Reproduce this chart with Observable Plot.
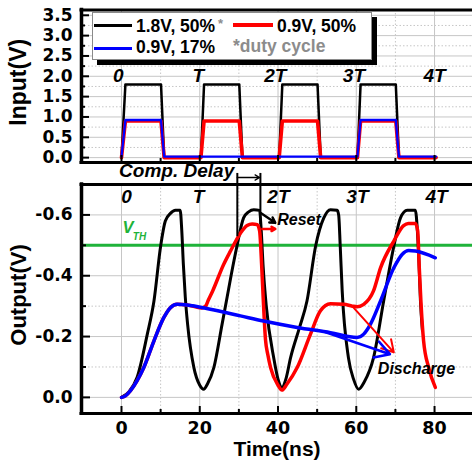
<!DOCTYPE html>
<html>
<head>
<meta charset="utf-8">
<script src="https://cdn.jsdelivr.net/npm/d3@7"></script>
<script src="https://cdn.jsdelivr.net/npm/@observablehq/plot@0.6"></script>
<style>
  body { margin: 0; background: #fff; }
  #wrap { position: relative; width: 472px; height: 463px; overflow: hidden; font-family: 'Liberation Sans', Arial, sans-serif; }
  #bot { position: absolute; left: 0; top: 160px; }
  #top { position: absolute; left: 0; top: 0; }
  .abs { position: absolute; }
  .lt { position: absolute; font-size: 17.5px; line-height: 17.5px; font-weight: bold; white-space: nowrap; }
</style>
</head>
<body>
<div id="wrap">
  <div id="bot"></div>
  <div id="top"></div>
</div>
<script>
// ---------------- data ----------------
const xMajor = [0, 20, 40, 60, 80];
const xMinor = [10, 30, 50, 70];
const xTickLabels = ["0", "20", "40", "60", "80"];

const inYMajor = [0, 0.5, 1, 1.5, 2, 2.5, 3, 3.5];
const inYMinor = [0.25, 0.75, 1.25, 1.75, 2.25, 2.75, 3.25];
const inYLabels = ["0.0", "0.5", "1.0", "1.5", "2.0", "2.5", "3.0", "3.5"];

const outYMajor = [0, -0.2, -0.4, -0.6];
const outYMinor = [-0.1, -0.3, -0.5];
const outYLabels = ["0.0", "-0.2", "-0.4", "-0.6"];

// input waveforms (time ns, volts)
const inT   = [0, 1, 10.1, 10.9, 20.3, 21.1, 30.1, 30.9, 40.3, 41.1, 50.1, 50.9, 60.3, 61.1, 70.1, 70.9, 80.4];
const in18  = [0, 1.8, 1.8, 0, 0, 1.8, 1.8, 0, 0, 1.8, 1.8, 0, 0, 1.8, 1.8, 0, 0];
const in09  = [0, 0.9, 0.9, 0, 0, 0.9, 0.9, 0, 0, 0.9, 0.9, 0, 0, 0.9, 0.9, 0, 0];
const in09bT = [0, 1, 10.1, 10.9, 60.3, 61.1, 70.1, 70.9, 80.4];
const in09b  = [0, 0.9, 0.9, 0, 0, 0.9, 0.9, 0, 0];

// output waveforms
const blackT = [0, 2, 4, 6.6, 8.3, 10, 11.2, 12.5, 13.8, 15, 15.4, 15.8, 16.3, 16.9, 18.5, 20, 21, 22, 23.6, 25.7, 27, 28, 29.5, 31.2, 32.5, 33.8, 35.3, 35.7, 36.2, 37, 38.9, 40, 41, 42, 43.2, 45.5, 47.4, 49.6, 51.7, 53.4, 55.1, 55.5, 55.9, 56.4, 58, 59.3, 60.6, 62, 64.4, 67, 69.6, 71.3, 73, 75.1, 75.6, 76, 76.4, 76.9];
const blackV = [0, -0.02, -0.066, -0.208, -0.317, -0.497, -0.58, -0.605, -0.615, -0.615, -0.55, -0.44, -0.33, -0.24, -0.098, -0.04, -0.027, -0.045, -0.098, -0.24, -0.33, -0.4, -0.497, -0.59, -0.61, -0.617, -0.615, -0.55, -0.43, -0.3, -0.13, -0.06, -0.033, -0.06, -0.13, -0.23, -0.317, -0.497, -0.59, -0.617, -0.615, -0.6, -0.497, -0.35, -0.13, -0.06, -0.027, -0.05, -0.13, -0.317, -0.497, -0.59, -0.615, -0.615, -0.55, -0.45, -0.317, -0.22];

const redT = [0, 1, 2.3, 4, 5.7, 8.3, 10.8, 12.5, 14.2, 16.8, 20.5, 21.5, 22.2, 23.3, 26.1, 27.8, 30.4, 32.1, 33.4, 34.7, 35.3, 35.8, 36.2, 36.8, 37.4, 38.1, 40, 41, 42.3, 44.9, 48.3, 50.8, 53.4, 56.8, 59, 60.2, 61.9, 64.4, 66.2, 69.6, 72.1, 73.3, 75.1, 75.7, 76.1, 76.5, 77.2, 78.5, 80.2];
const redV = [0, -0.005, -0.022, -0.055, -0.098, -0.186, -0.262, -0.295, -0.306, -0.304, -0.294, -0.30, -0.32, -0.35, -0.437, -0.48, -0.54, -0.565, -0.57, -0.568, -0.547, -0.44, -0.33, -0.19, -0.14, -0.098, -0.04, -0.024, -0.044, -0.098, -0.208, -0.284, -0.308, -0.306, -0.30, -0.298, -0.306, -0.35, -0.426, -0.514, -0.565, -0.572, -0.572, -0.547, -0.426, -0.32, -0.186, -0.098, -0.033];

const blueT = [0, 1, 2.3, 4, 5.7, 8.3, 10.8, 12.5, 14.2, 16.8, 22.7, 30.4, 36.3, 44.9, 53.4, 60.2, 61.9, 63.6, 66.2, 69.6, 71.7, 73.4, 75.1, 80.2];
const blueV = [0, -0.005, -0.022, -0.055, -0.098, -0.186, -0.262, -0.295, -0.306, -0.304, -0.29, -0.268, -0.251, -0.23, -0.213, -0.197, -0.208, -0.24, -0.317, -0.426, -0.47, -0.483, -0.481, -0.459];

const vth = -0.5;

// annotations
const periodLabels = ["0", "T", "2T", "3T", "4T"];
const topLabelT = [-0.8, 19.6, 39.3, 59.4, 80];
const topLabelV = 2.02;
const botLabelT = [1.3, 19.7, 40.1, 60.3, 80.5];
const botLabelV = -0.66;

// arrows: [t1, v1, t2, v2]
const resetBlackArrow = [35.5, -0.607, 39.3, -0.574];
const resetRedArrow   = [36.0, -0.554, 39.3, -0.554];
const dischargeRedArrow  = [59.3, -0.295, 69.6, -0.148];
const dischargeBlueArrow = [52.0, -0.215, 68.6, -0.142];
const delayArrow = [29.6, -0.723, 35.3, -0.723];
const bracketT = [29.6, 35.5];
const bracketTop = -0.738;
const bracketBottom = [-0.53, -0.57];

// legend
const legendLabels = ["1.8V, 50%", "0.9V, 50%", "0.9V, 17%"];
const legendColors = ["#000000", "#ff0000", "#0000ff"];
const legendNote = "*duty cycle";

// ---------------- chart ----------------
const F = "'Liberation Sans', Arial, sans-serif";
const TF = "'DejaVu Sans', 'Liberation Sans', sans-serif";
const xDom = [-10.22, 89.7];
const inDom = [-0.12, 3.63];
const outDom = [0.053, -0.70];
const pts = (T, V) => T.map((t, i) => ({t, v: V[i]}));
const grid = "#c6c6c6";
const arrowObj = a => ({x1: a[0], y1: a[1], x2: a[2], y2: a[3]});

const topChart = Plot.plot({
  width: 472, height: 165,
  marginLeft: 81, marginRight: 0, marginTop: 9.5, marginBottom: 3,
  style: {background: "transparent", overflow: "visible", fontFamily: F},
  x: {domain: xDom},
  y: {domain: inDom},
  marks: [
    Plot.ruleX(xMinor, {stroke: grid, strokeDasharray: "1.5 2"}),
    Plot.ruleX(xMajor, {stroke: grid}),
    Plot.ruleY(inYMinor, {stroke: grid, strokeDasharray: "1.5 2"}),
    Plot.ruleY(inYMajor, {stroke: grid}),
    Plot.line(pts(inT, in18), {x: "t", y: "v", stroke: "#000", strokeWidth: 2.5}),
    Plot.line(pts(inT, in09), {x: "t", y: "v", stroke: "#ff0000", strokeWidth: 3.6}),
    Plot.line(pts(in09bT, in09b), {x: "t", y: "v", stroke: "#0000ff", strokeWidth: 2.3, dy: -1}),
    Plot.text(periodLabels, {x: (d, i) => topLabelT[i], y: topLabelV, text: d => d, fontSize: 19, fontWeight: "bold", fontStyle: "italic", fill: "#000"}),
    Plot.axisY(inYMajor, {anchor: "left", tickSize: -8, fill: "none", label: null, strokeWidth: 2}),
    Plot.axisY(inYMinor, {anchor: "left", tickSize: -4, fill: "none", label: null, strokeWidth: 2}),
    Plot.axisY(inYMajor, {anchor: "left", tickSize: 0, tickPadding: 9, label: null, fontSize: 17, fontWeight: "bold", fontFamily: TF, fill: "#000", tickFormat: d => inYLabels[inYMajor.indexOf(d)]}),
    Plot.axisX(xMajor, {anchor: "bottom", tickSize: -7, fill: "none", label: null, strokeWidth: 2}),
    Plot.axisX(xMinor, {anchor: "bottom", tickSize: -4, fill: "none", label: null, strokeWidth: 2}),
    Plot.ruleX([xDom[0]], {strokeWidth: 3.5, strokeLinecap: "square"}),
    Plot.ruleY(inDom, {strokeWidth: 3, strokeLinecap: "square"}),
    Plot.text(["Input(V)"], {frameAnchor: "left", text: d => d, textAnchor: "middle", rotate: -90, dx: -63, dy: -4, fontSize: 23, fontWeight: "bold", fill: "#000"})
  ]
});
document.getElementById("top").appendChild(topChart);

const botChart = Plot.plot({
  width: 472, height: 303,
  marginLeft: 81, marginRight: 0, marginTop: 24, marginBottom: 50,
  style: {background: "transparent", overflow: "visible", fontFamily: F},
  x: {domain: xDom},
  y: {domain: outDom},
  marks: [
    Plot.ruleX(xMinor, {stroke: grid, strokeDasharray: "1.5 2"}),
    Plot.ruleX(xMajor, {stroke: grid}),
    Plot.ruleY(outYMinor, {stroke: grid, strokeDasharray: "1.5 2"}),
    Plot.ruleY(outYMajor, {stroke: grid}),
    Plot.ruleY([vth], {stroke: "#1fb33a", strokeWidth: 3}),
    Plot.line(pts(blackT, blackV), {x: "t", y: "v", stroke: "#000", strokeWidth: 3, curve: "monotone-x"}),
    Plot.line(pts(redT, redV), {x: "t", y: "v", stroke: "#ff0000", strokeWidth: 3.5, curve: "monotone-x"}),
    Plot.line(pts(blueT, blueV), {x: "t", y: "v", stroke: "#0000ff", strokeWidth: 3.5, curve: "monotone-x"}),
    Plot.arrow([arrowObj(resetBlackArrow)], {x1: "x1", y1: "y1", x2: "x2", y2: "y2", stroke: "#000", strokeWidth: 2.5, headLength: 9}),
    Plot.arrow([arrowObj(resetRedArrow)], {x1: "x1", y1: "y1", x2: "x2", y2: "y2", stroke: "#ff0000", strokeWidth: 2.5, headLength: 9}),
    Plot.arrow([arrowObj(dischargeRedArrow)], {x1: "x1", y1: "y1", x2: "x2", y2: "y2", stroke: "#ff0000", strokeWidth: 2, headLength: 10}),
    Plot.arrow([arrowObj(dischargeBlueArrow)], {x1: "x1", y1: "y1", x2: "x2", y2: "y2", stroke: "#0000ff", strokeWidth: 2.5, headLength: 10}),
    Plot.link(bracketT.map((t, i) => ({t, b: bracketBottom[i]})), {x1: "t", x2: "t", y1: bracketTop, y2: "b", stroke: "#000", strokeWidth: 2}),
    Plot.arrow([arrowObj(delayArrow)], {x1: "x1", y1: "y1", x2: "x2", y2: "y2", stroke: "#000", strokeWidth: 1.3, headLength: 6}),
    Plot.text(["Comp. Delay"], {x: 14.1, y: -0.746, text: d => d, fontSize: 19, fontWeight: "bold", fontStyle: "italic", fill: "#000"}),
    Plot.text(["Reset"], {x: 39.8, y: -0.585, text: d => d, textAnchor: "start", fontSize: 16, fontWeight: "bold", fontStyle: "italic", fill: "#000"}),
    Plot.text(["Discharge"], {x: 75.4, y: -0.095, text: d => d, fontSize: 16, fontWeight: "bold", fontStyle: "italic", fill: "#000"}),
    Plot.text(["V"], {x: 1.66, y: -0.557, text: d => d, fontSize: 16.5, fontWeight: "bold", fontStyle: "italic", fill: "#1fb33a"}),
    Plot.text(["TH"], {x: 4.6, y: -0.527, text: d => d, fontSize: 10, fontWeight: "bold", fontStyle: "italic", fill: "#1fb33a"}),
    Plot.text(periodLabels, {x: (d, i) => botLabelT[i], y: botLabelV, text: d => d, fontSize: 19, fontWeight: "bold", fontStyle: "italic", fill: "#000"}),
    Plot.axisY(outYMajor, {anchor: "left", tickSize: -9, fill: "none", label: null, strokeWidth: 2}),
    Plot.axisY(outYMinor, {anchor: "left", tickSize: -5, fill: "none", label: null, strokeWidth: 2}),
    Plot.axisY(outYMajor, {anchor: "left", tickSize: 0, tickPadding: 9, label: null, fontSize: 17, fontWeight: "bold", fontFamily: TF, fill: "#000", tickFormat: d => outYLabels[outYMajor.indexOf(d)]}),
    Plot.axisX(xMajor, {anchor: "bottom", tickSize: -7, fill: "none", label: null, strokeWidth: 2}),
    Plot.axisX(xMinor, {anchor: "bottom", tickSize: -4, fill: "none", label: null, strokeWidth: 2}),
    Plot.axisX(xMajor, {anchor: "bottom", tickSize: 0, tickPadding: 8, label: null, fontSize: 17.5, fontWeight: "bold", fontFamily: TF, fill: "#000", tickFormat: d => xTickLabels[xMajor.indexOf(d)]}),
    Plot.ruleX([xDom[0]], {strokeWidth: 3.5, strokeLinecap: "square"}),
    Plot.ruleY(outDom, {strokeWidth: 3, strokeLinecap: "square"}),
    Plot.text(["Output(V)"], {frameAnchor: "left", text: d => d, textAnchor: "middle", rotate: -90, dx: -63, dy: -4, fontSize: 22, fontWeight: "bold", fill: "#000"}),
    Plot.text(["Time(ns)"], {frameAnchor: "bottom", text: d => d, textAnchor: "middle", lineAnchor: "top", dy: 28, fontSize: 21, fontWeight: "bold", fill: "#000"})
  ]
});
document.getElementById("bot").appendChild(botChart);

// ---------------- legend (inside the input panel) ----------------
const wrap = document.getElementById("wrap");
function add(tag, cls, css, text) {
  const el = document.createElement(tag);
  if (cls) el.className = cls;
  el.style.cssText = css;
  if (text != null) el.textContent = text;
  wrap.appendChild(el);
  return el;
}
add("div", "abs", "left:92px;top:12px;width:280px;height:48px;box-sizing:border-box;border:1.5px solid #8a8a8a;background:#fff;box-shadow:5px 5px 0 #000;");
add("div", "abs", `left:94px;top:23.5px;width:38px;height:3px;background:${legendColors[0]};`);
add("div", "abs", `left:233px;top:23px;width:40px;height:4px;background:${legendColors[1]};`);
add("div", "abs", `left:94px;top:47px;width:38px;height:2.5px;background:${legendColors[2]};`);
add("div", "lt", "left:136px;top:18.4px;color:#000;", legendLabels[0]);
add("div", "lt", "left:277px;top:18.4px;color:#000;", legendLabels[1]);
add("div", "lt", "left:136px;top:39.4px;color:#000;", legendLabels[2]);
add("div", "lt", "left:218px;top:17px;color:#8c8c8c;font-size:13px;line-height:13px;", "*");
add("div", "lt", "left:233px;top:38.4px;color:#8c8c8c;", legendNote);
</script>
</body>
</html>
